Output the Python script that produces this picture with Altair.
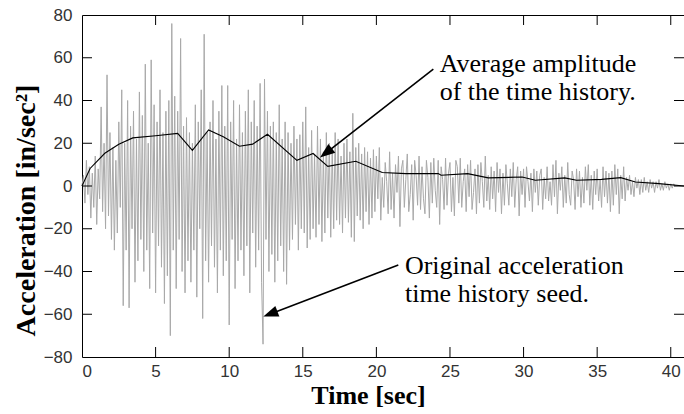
import math
import altair as alt
import pandas as pd

# ---------------- data ----------------
DT = 0.1  # sample spacing of the seed record [sec]
acc_00_10 = [0, 5, -8, 12, -4, 9, -15, 6, -10, 14,
             -18, 8, -6, 37, -12, 20, -20, 52, -14, 25,
             -25, 18, -30, 12, -22, 30, -10, 45, -56, 20,
             -30, 40, -57, 28, -20, 35, -45, 22, -35, 44,
             -25, 33, -40, 57, -30, 20, -48, 59, -22, 38,
             -50, 30, -28, 45, -38, 25, -55, 35, -42, 40,
             -70, 76, -30, 42, -48, 35, -25, 69, -40, 28,
             -50, 32, -35, 25, -45, 20, -30, 38, -52, 30,
             -20, 45, -62, 71, -35, 25, -45, 30, -28, 40,
             -38, 22, -50, 35, -30, 47, -42, 28, -35, 47]
acc_10_20 = [-65, 30, -25, 40, -48, 22, -35, 38, -30, 25,
             -42, 35, -28, 45, -50, 30, -22, 40, -38, 28,
             -30, 48, -45, -74, 50, -25, 35, -40, 28, -32,
             30, -45, 25, -35, 38, -28, 22, -40, 30, -46,
             25, -30, 20, -25, 28, -18, 22, -30, 24, -20,
             30, -22, 37, -29, 18, -25, 26, -20, 15, -24,
             28, -18, 22, -26, 16, -22, 25, -15, 20, -24,
             18, -20, 25, -16, 22, -18, 14, -22, 20, -15,
             22, -17, 16, -24, 34, -26, 18, -14, 20, -16,
             15, -20, 18, -12, 16, -18, 13, -15, 17, -12]
acc_20_30 = [14, -6, 18, -16, 4, -10, 11, 2, -13, 16,
             -11, 6, -15, 10, -3, 14, -19, 8, 12, -10,
             3, 15, -12, -4, 10, -16, 12, 5, -9, 14,
             -11, 9, -6, -13, 12, 4, -15, 11, -8, 13,
             -2, -10, 12, -18, 9, 3, -11, 13, -9, 6,
             11, -12, 4, -14, 12, 9, -8, 13, -10, 2,
             8, -12, 10, -5, 12, -11, -3, 8, -13, 10,
             -8, 11, 2, -10, 14, -7, 5, -11, 9, -6,
             7, -12, 11, -3, 8, -13, 6, -9, 10, 1,
             -9, 8, -5, 11, -10, 3, 9, -14, 7, -4]
acc_30_41 = [8, -10, 9, 2, -7, 6, -12, 8, -3, 7,
             -9, 5, 8, -11, 4, -6, 9, -7, 2, -9,
             10, -5, 12, -13, 6, -2, 9, -10, 5, -8,
             11, -4, -9, 7, 3, -11, 8, -5, 7, -10,
             4, -8, 9, -2, 10, -9, 5, -11, 7, -4,
             8, -7, 3, -10, 9, -5, 7, -8, 6, -12,
             7, -9, 10, -4, 8, -13, 5, -6, 9, -7,
             4, -2, 5, -4, 2, -5, 4, -1, 3, -4,
             3, -3, 4, -2, 2, -3, 3, -1, 2, -3,
             2, -1, 3, -2, 1, -2, 2, -1, 1, -2,
             1, -1, 1, 0]

avg_t = [0.0, 0.55, 1.55, 2.5, 3.45, 5.0, 6.5, 7.5, 8.6, 9.6, 10.7, 11.6,
         12.6, 14.6, 15.7, 16.7, 18.6, 20.4, 22.0, 24.2, 24.4, 26.2, 27.6,
         29.9, 30.8, 32.8, 33.6, 35.3, 36.6, 37.6, 39.2, 40.9]
avg_v = [0.0, 8.2, 15.3, 19.5, 22.5, 23.5, 24.6, 16.7, 26.2, 23.0, 18.6, 19.6,
         24.2, 12.0, 15.2, 9.2, 11.6, 6.3, 5.8, 5.8, 5.0, 5.8, 3.8,
         4.2, 2.7, 3.8, 2.7, 3.1, 3.9, 1.9, 1.1, 0.0]

x_ticks = [5, 10, 15, 20, 25, 30, 35, 40]
x_labels = [0, 5, 10, 15, 20, 25, 30, 35, 40]
y_ticks = [-60, -40, -20, 0, 20, 40, 60]
y_labels = [-80, -60, -40, -20, 0, 20, 40, 60, 80]

note_lines = ["Average amplitude\nof the time history.",
              "Original acceleration\ntime history seed."]
note_t = [24.3, 21.94]
note_v = [53.3, -41.2]
arrow_t0 = [23.87, 21.49]
arrow_v0 = [54.7, -36.96]
arrow_t1 = [16.17, 12.32]
arrow_v1 = [13.3, -61.1]

# ---------------- layout ----------------
X0, X1 = 0.0, 40.9
Y0, Y1 = -80.0, 80.0
W, H = 602, 342
PX_T = W / (X1 - X0)
PX_V = H / (Y1 - Y0)
TICK_PX = 10
HEAD_PX = 15

acc = acc_00_10 + acc_10_20 + acc_20_30 + acc_30_41
seed = pd.DataFrame({"t": [round(i * DT, 2) for i in range(len(acc))], "a": acc})
avg = pd.DataFrame({"t": avg_t, "a": avg_v})

xs = alt.Scale(domain=[X0, X1], nice=False, zero=False)
ys = alt.Scale(domain=[Y0, Y1], nice=False, zero=False)

x_axis = alt.Axis(values=x_labels, grid=False, ticks=False, tickSize=0, domain=False,
                  labelPadding=6, labelFont="Liberation Sans", labelFontSize=17,
                  labelColor="#333333", title="Time [sec]", titleFont="Liberation Serif",
                  titleFontSize=26, titleFontWeight="bold", titleColor="black",
                  titleBaseline="alphabetic", titleAlign="center", titleX=286, titleY=46)
y_axis = alt.Axis(values=y_labels, grid=False, ticks=False, tickSize=0, domain=False,
                  labelPadding=10, labelFont="Liberation Sans", labelFontSize=17,
                  labelColor="#333333", title="Acceleration [in/sec²]",
                  titleFont="Liberation Serif", titleFontSize=28, titleFontWeight="bold",
                  titleColor="black", titleAngle=270, titleBaseline="alphabetic",
                  titleX=-48, titleY=195, titleAlign="center")


def X(field):
    return alt.X(field, type="quantitative", scale=xs, axis=x_axis)


def Y(field):
    return alt.Y(field, type="quantitative", scale=ys, axis=y_axis)


seed_layer = alt.Chart(seed).mark_line(color="#a9a9a9", strokeWidth=1).encode(
    x=X("t"), y=Y("a"))
avg_layer = alt.Chart(avg).mark_line(color="black", strokeWidth=1.1).encode(
    x=X("t"), y=Y("a"))

# inward tick marks on all four sides
dt_tick = TICK_PX / PX_T
dv_tick = TICK_PX / PX_V
tick_rows = []
for v in y_ticks:
    tick_rows.append({"x": X0, "x2": X0 + dt_tick, "y": v, "y2": v})
    tick_rows.append({"x": X1 - dt_tick, "x2": X1, "y": v, "y2": v})
for t in x_ticks:
    tick_rows.append({"x": t, "x2": t, "y": Y0, "y2": Y0 + dv_tick})
    tick_rows.append({"x": t, "x2": t, "y": Y1 - dv_tick, "y2": Y1})
ticks_layer = alt.Chart(pd.DataFrame(tick_rows)).mark_rule(color="black", strokeWidth=1).encode(
    x=X("x"), x2="x2:Q", y=Y("y"), y2="y2:Q")

# arrows
arows = []
for t0, v0, t1, v1 in zip(arrow_t0, arrow_v0, arrow_t1, arrow_v1):
    dx = (t1 - t0) * PX_T
    dy = -(v1 - v0) * PX_V
    L = math.hypot(dx, dy)
    ux, uy = dx / L, dy / L
    ang = math.degrees(math.atan2(dx, -dy)) % 360
    bx = t1 - ux * (HEAD_PX - 2) / PX_T
    by = v1 + uy * (HEAD_PX - 2) / PX_V
    arows.append({"t0": t0, "v0": v0, "tb": bx, "vb": by, "t1": t1, "v1": v1, "ang": ang})
arr = pd.DataFrame(arows)
shaft = alt.Chart(arr).mark_rule(color="black", strokeWidth=1.6).encode(
    x=X("t0"), x2="tb:Q", y=Y("v0"), y2="vb:Q")
head = alt.Chart(arr).mark_point(
    shape="M0,0L0.75,2L-0.75,2Z", filled=True, color="black", opacity=1, size=225, strokeWidth=0
).encode(x=X("t1"), y=Y("v1"), angle=alt.Angle("ang:Q", scale=None))

notes = pd.DataFrame({"t": note_t, "v": note_v, "txt": note_lines})
text_layer = alt.Chart(notes).mark_text(
    align="left", baseline="alphabetic", font="Liberation Serif", fontSize=26,
    lineBreak="\n", lineHeight=28, color="black"
).encode(x=X("t"), y=Y("v"), text="txt:N")

chart = alt.layer(seed_layer, avg_layer, ticks_layer, shaft, head, text_layer).properties(
    width=W, height=H,
    autosize=alt.AutoSizeParams(type="none"),
    padding={"left": 82, "top": 15, "right": 0, "bottom": 57},
    background="white",
).configure_view(stroke="black", strokeWidth=1)

chart.save("out.html", embed_options={"renderer": "svg", "actions": False})
